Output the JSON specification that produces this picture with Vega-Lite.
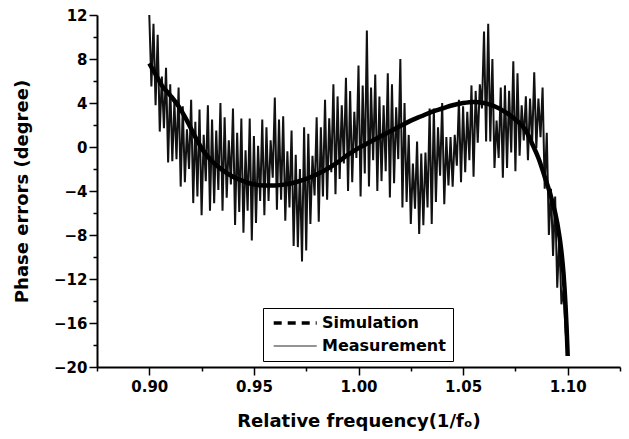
{
  "$schema": "https://vega.github.io/schema/vega-lite/v6.json",
  "width": 523,
  "height": 352,
  "autosize": "none",
  "padding": {"left": 97, "top": 15, "right": 9, "bottom": 72},
  "background": "white",
  "config": {
    "view": {"stroke": null},
    "font": "DejaVu Sans",
    "axis": {
      "grid": false,
      "domainColor": "black",
      "domainWidth": 2,
      "tickColor": "black",
      "tickWidth": 1.5,
      "labelColor": "black",
      "titleColor": "black",
      "labelFont": "DejaVu Sans",
      "labelFontWeight": "bold",
      "labelFontSize": 15,
      "titleFont": "DejaVu Sans",
      "titleFontWeight": "bold",
      "titleFontSize": 18,
      "labelOverlap": false,
      "labelFlush": false
    },
    "legend": {
      "orient": "none",
      "legendX": 166,
      "legendY": 293,
      "strokeColor": "black",
      "strokeWidth": 1,
      "fillColor": "white",
      "padding": 7,
      "rowPadding": 7,
      "labelFont": "DejaVu Sans",
      "labelFontWeight": "bold",
      "labelFontSize": 16,
      "labelColor": "black",
      "labelOffset": 36,
      "symbolType": "M-0.6,0H5.4",
      "symbolSize": 205,
      "symbolStrokeColor": "black"
    }
  },
  "datasets": {
    "meas": [
      {"x":0.900,"y":12,"s":"Measurement"},{"x":0.901,"y":5.5,"s":"Measurement"},{"x":0.902,"y":11.2,"s":"Measurement"},{"x":0.903,"y":3.8,"s":"Measurement"},
      {"x":0.904,"y":10.2,"s":"Measurement"},{"x":0.905,"y":1.4,"s":"Measurement"},{"x":0.906,"y":6.4,"s":"Measurement"},{"x":0.907,"y":1.7,"s":"Measurement"},
      {"x":0.908,"y":7.2,"s":"Measurement"},{"x":0.909,"y":-1.4,"s":"Measurement"},{"x":0.910,"y":5.7,"s":"Measurement"},{"x":0.911,"y":-1.3,"s":"Measurement"},
      {"x":0.912,"y":4.1,"s":"Measurement"},{"x":0.913,"y":-1.1,"s":"Measurement"},{"x":0.914,"y":5.4,"s":"Measurement"},{"x":0.915,"y":-3.6,"s":"Measurement"},
      {"x":0.916,"y":3.7,"s":"Measurement"},{"x":0.917,"y":-3.2,"s":"Measurement"},{"x":0.918,"y":1.6,"s":"Measurement"},{"x":0.919,"y":-2.0,"s":"Measurement"},
      {"x":0.920,"y":4.3,"s":"Measurement"},{"x":0.921,"y":-5.1,"s":"Measurement"},{"x":0.922,"y":2.3,"s":"Measurement"},{"x":0.923,"y":-4.5,"s":"Measurement"},
      {"x":0.924,"y":3.4,"s":"Measurement"},{"x":0.925,"y":-6.2,"s":"Measurement"},{"x":0.926,"y":1.1,"s":"Measurement"},{"x":0.927,"y":-3.1,"s":"Measurement"},
      {"x":0.928,"y":3.8,"s":"Measurement"},{"x":0.929,"y":-5.8,"s":"Measurement"},{"x":0.930,"y":2.5,"s":"Measurement"},{"x":0.931,"y":-5.1,"s":"Measurement"},
      {"x":0.932,"y":1.5,"s":"Measurement"},{"x":0.933,"y":-3.9,"s":"Measurement"},{"x":0.934,"y":4.0,"s":"Measurement"},{"x":0.935,"y":-5.8,"s":"Measurement"},
      {"x":0.936,"y":2.7,"s":"Measurement"},{"x":0.937,"y":-4.6,"s":"Measurement"},{"x":0.938,"y":0.6,"s":"Measurement"},{"x":0.939,"y":-3.4,"s":"Measurement"},
      {"x":0.940,"y":3.5,"s":"Measurement"},{"x":0.941,"y":-7.1,"s":"Measurement"},{"x":0.942,"y":1.3,"s":"Measurement"},{"x":0.943,"y":-5.9,"s":"Measurement"},
      {"x":0.944,"y":2.6,"s":"Measurement"},{"x":0.945,"y":-7.8,"s":"Measurement"},{"x":0.946,"y":-0.3,"s":"Measurement"},{"x":0.947,"y":-5.8,"s":"Measurement"},
      {"x":0.948,"y":2.6,"s":"Measurement"},{"x":0.949,"y":-8.5,"s":"Measurement"},{"x":0.950,"y":1.0,"s":"Measurement"},{"x":0.951,"y":-6.9,"s":"Measurement"},
      {"x":0.952,"y":0.1,"s":"Measurement"},{"x":0.953,"y":-4.9,"s":"Measurement"},{"x":0.954,"y":2.5,"s":"Measurement"},{"x":0.955,"y":-6.2,"s":"Measurement"},
      {"x":0.956,"y":1.8,"s":"Measurement"},{"x":0.957,"y":-4.9,"s":"Measurement"},{"x":0.958,"y":0.6,"s":"Measurement"},{"x":0.959,"y":-2.8,"s":"Measurement"},
      {"x":0.960,"y":4.5,"s":"Measurement"},{"x":0.961,"y":-5.7,"s":"Measurement"},{"x":0.962,"y":2.5,"s":"Measurement"},{"x":0.963,"y":-4.8,"s":"Measurement"},
      {"x":0.964,"y":2.8,"s":"Measurement"},{"x":0.965,"y":-6.7,"s":"Measurement"},{"x":0.966,"y":-0.4,"s":"Measurement"},{"x":0.967,"y":-5.5,"s":"Measurement"},
      {"x":0.968,"y":1.5,"s":"Measurement"},{"x":0.969,"y":-9.0,"s":"Measurement"},{"x":0.970,"y":-0.7,"s":"Measurement"},{"x":0.971,"y":-9.1,"s":"Measurement"},
      {"x":0.972,"y":-2.0,"s":"Measurement"},{"x":0.973,"y":-10.4,"s":"Measurement"},{"x":0.974,"y":1.8,"s":"Measurement"},{"x":0.975,"y":-9.4,"s":"Measurement"},
      {"x":0.976,"y":1.2,"s":"Measurement"},{"x":0.977,"y":-7.0,"s":"Measurement"},{"x":0.978,"y":-0.8,"s":"Measurement"},{"x":0.979,"y":-4.4,"s":"Measurement"},
      {"x":0.980,"y":2.7,"s":"Measurement"},{"x":0.981,"y":-6.8,"s":"Measurement"},{"x":0.982,"y":1.8,"s":"Measurement"},{"x":0.983,"y":-4.5,"s":"Measurement"},
      {"x":0.984,"y":4.3,"s":"Measurement"},{"x":0.985,"y":-4.8,"s":"Measurement"},{"x":0.986,"y":2.6,"s":"Measurement"},{"x":0.987,"y":-2.3,"s":"Measurement"},
      {"x":0.988,"y":5.7,"s":"Measurement"},{"x":0.989,"y":-4.3,"s":"Measurement"},{"x":0.990,"y":4.6,"s":"Measurement"},{"x":0.991,"y":-2.9,"s":"Measurement"},
      {"x":0.992,"y":3.8,"s":"Measurement"},{"x":0.993,"y":-1.5,"s":"Measurement"},{"x":0.994,"y":6.3,"s":"Measurement"},{"x":0.995,"y":-4.0,"s":"Measurement"},
      {"x":0.996,"y":5.1,"s":"Measurement"},{"x":0.997,"y":-3.2,"s":"Measurement"},{"x":0.998,"y":3.2,"s":"Measurement"},{"x":0.999,"y":-1.0,"s":"Measurement"},
      {"x":1.000,"y":7.4,"s":"Measurement"},{"x":1.001,"y":-4.5,"s":"Measurement"},{"x":1.002,"y":5.6,"s":"Measurement"},{"x":1.003,"y":-2.4,"s":"Measurement"},
      {"x":1.004,"y":10.6,"s":"Measurement"},{"x":1.005,"y":-3.6,"s":"Measurement"},{"x":1.006,"y":5.4,"s":"Measurement"},{"x":1.007,"y":-1.2,"s":"Measurement"},
      {"x":1.008,"y":6.6,"s":"Measurement"},{"x":1.009,"y":-4.0,"s":"Measurement"},{"x":1.010,"y":4.6,"s":"Measurement"},{"x":1.011,"y":-3.1,"s":"Measurement"},
      {"x":1.012,"y":3.8,"s":"Measurement"},{"x":1.013,"y":-2.2,"s":"Measurement"},{"x":1.014,"y":6.7,"s":"Measurement"},{"x":1.015,"y":-4.6,"s":"Measurement"},
      {"x":1.016,"y":5.7,"s":"Measurement"},{"x":1.017,"y":-3.3,"s":"Measurement"},{"x":1.018,"y":3.6,"s":"Measurement"},{"x":1.019,"y":-1.1,"s":"Measurement"},
      {"x":1.020,"y":8.0,"s":"Measurement"},{"x":1.021,"y":-5.5,"s":"Measurement"},{"x":1.022,"y":4.0,"s":"Measurement"},{"x":1.023,"y":-5.0,"s":"Measurement"},
      {"x":1.024,"y":1.1,"s":"Measurement"},{"x":1.025,"y":-7.0,"s":"Measurement"},{"x":1.026,"y":-1.5,"s":"Measurement"},{"x":1.027,"y":-5.6,"s":"Measurement"},
      {"x":1.028,"y":0.5,"s":"Measurement"},{"x":1.029,"y":-7.9,"s":"Measurement"},{"x":1.030,"y":-0.6,"s":"Measurement"},{"x":1.031,"y":-7.1,"s":"Measurement"},
      {"x":1.032,"y":-0.5,"s":"Measurement"},{"x":1.033,"y":-5.5,"s":"Measurement"},{"x":1.034,"y":3.5,"s":"Measurement"},{"x":1.035,"y":-7.0,"s":"Measurement"},
      {"x":1.036,"y":3.5,"s":"Measurement"},{"x":1.037,"y":-5.0,"s":"Measurement"},{"x":1.038,"y":1.8,"s":"Measurement"},{"x":1.039,"y":-2.6,"s":"Measurement"},
      {"x":1.040,"y":4.0,"s":"Measurement"},{"x":1.041,"y":-5.2,"s":"Measurement"},{"x":1.042,"y":0.9,"s":"Measurement"},{"x":1.043,"y":-3.5,"s":"Measurement"},
      {"x":1.044,"y":0.9,"s":"Measurement"},{"x":1.045,"y":-3.6,"s":"Measurement"},{"x":1.046,"y":1.1,"s":"Measurement"},{"x":1.047,"y":-1.7,"s":"Measurement"},
      {"x":1.048,"y":4.3,"s":"Measurement"},{"x":1.049,"y":-3.2,"s":"Measurement"},{"x":1.050,"y":3.7,"s":"Measurement"},{"x":1.051,"y":-2.3,"s":"Measurement"},
      {"x":1.052,"y":3.2,"s":"Measurement"},{"x":1.053,"y":-1.2,"s":"Measurement"},{"x":1.054,"y":5.6,"s":"Measurement"},{"x":1.055,"y":-2.7,"s":"Measurement"},
      {"x":1.056,"y":5.1,"s":"Measurement"},{"x":1.057,"y":0.4,"s":"Measurement"},{"x":1.058,"y":5.7,"s":"Measurement"},{"x":1.059,"y":3.5,"s":"Measurement"},
      {"x":1.060,"y":10.5,"s":"Measurement"},{"x":1.061,"y":0.5,"s":"Measurement"},{"x":1.062,"y":11.2,"s":"Measurement"},{"x":1.063,"y":0.5,"s":"Measurement"},
      {"x":1.064,"y":8.0,"s":"Measurement"},{"x":1.065,"y":-1.9,"s":"Measurement"},{"x":1.066,"y":2.4,"s":"Measurement"},{"x":1.067,"y":-1.0,"s":"Measurement"},
      {"x":1.068,"y":5.4,"s":"Measurement"},{"x":1.069,"y":-2.8,"s":"Measurement"},{"x":1.070,"y":5.6,"s":"Measurement"},{"x":1.071,"y":-1.9,"s":"Measurement"},
      {"x":1.072,"y":5.1,"s":"Measurement"},{"x":1.073,"y":-0.5,"s":"Measurement"},{"x":1.074,"y":7.8,"s":"Measurement"},{"x":1.075,"y":-2.2,"s":"Measurement"},
      {"x":1.076,"y":6.7,"s":"Measurement"},{"x":1.077,"y":-0.8,"s":"Measurement"},{"x":1.078,"y":3.8,"s":"Measurement"},{"x":1.079,"y":0.6,"s":"Measurement"},
      {"x":1.080,"y":4.6,"s":"Measurement"},{"x":1.081,"y":-1.2,"s":"Measurement"},{"x":1.082,"y":4.4,"s":"Measurement"},{"x":1.083,"y":0.3,"s":"Measurement"},
      {"x":1.084,"y":6.8,"s":"Measurement"},{"x":1.085,"y":-0.1,"s":"Measurement"},{"x":1.086,"y":4.4,"s":"Measurement"},{"x":1.087,"y":0.9,"s":"Measurement"},
      {"x":1.088,"y":5.4,"s":"Measurement"},{"x":1.089,"y":-3.8,"s":"Measurement"},{"x":1.090,"y":1.3,"s":"Measurement"},{"x":1.091,"y":-8.0,"s":"Measurement"},
      {"x":1.092,"y":-3.8,"s":"Measurement"},{"x":1.093,"y":-9.9,"s":"Measurement"},{"x":1.094,"y":-4.5,"s":"Measurement"},{"x":1.095,"y":-12.8,"s":"Measurement"},
      {"x":1.096,"y":-8.3,"s":"Measurement"},{"x":1.097,"y":-14.3,"s":"Measurement"},{"x":1.098,"y":-13.0,"s":"Measurement"},{"x":1.099,"y":-16.8,"s":"Measurement"},
      {"x":1.100,"y":-19,"s":"Measurement"}
    ],
    "sim": [
      {"x":0.900,"y":7.6,"s":"Simulation"},{"x":0.903,"y":6.6,"s":"Simulation"},{"x":0.906,"y":5.6,"s":"Simulation"},{"x":0.910,"y":4.7,"s":"Simulation"},
      {"x":0.914,"y":3.7,"s":"Simulation"},{"x":0.918,"y":2.4,"s":"Simulation"},{"x":0.922,"y":0.9,"s":"Simulation"},{"x":0.926,"y":-0.4,"s":"Simulation"},
      {"x":0.930,"y":-1.3,"s":"Simulation"},{"x":0.935,"y":-2.1,"s":"Simulation"},{"x":0.940,"y":-2.7,"s":"Simulation"},{"x":0.945,"y":-3.1,"s":"Simulation"},
      {"x":0.950,"y":-3.4,"s":"Simulation"},{"x":0.955,"y":-3.5,"s":"Simulation"},{"x":0.960,"y":-3.5,"s":"Simulation"},{"x":0.965,"y":-3.4,"s":"Simulation"},
      {"x":0.970,"y":-3.2,"s":"Simulation"},{"x":0.975,"y":-2.9,"s":"Simulation"},{"x":0.980,"y":-2.5,"s":"Simulation"},{"x":0.985,"y":-2.0,"s":"Simulation"},
      {"x":0.990,"y":-1.4,"s":"Simulation"},{"x":0.995,"y":-0.7,"s":"Simulation"},{"x":1.000,"y":-0.1,"s":"Simulation"},{"x":1.005,"y":0.4,"s":"Simulation"},
      {"x":1.010,"y":0.9,"s":"Simulation"},{"x":1.015,"y":1.4,"s":"Simulation"},{"x":1.020,"y":1.9,"s":"Simulation"},{"x":1.025,"y":2.4,"s":"Simulation"},
      {"x":1.030,"y":2.8,"s":"Simulation"},{"x":1.035,"y":3.2,"s":"Simulation"},{"x":1.040,"y":3.5,"s":"Simulation"},{"x":1.045,"y":3.8,"s":"Simulation"},
      {"x":1.050,"y":4.0,"s":"Simulation"},{"x":1.055,"y":4.1,"s":"Simulation"},{"x":1.060,"y":4.0,"s":"Simulation"},{"x":1.065,"y":3.7,"s":"Simulation"},
      {"x":1.070,"y":3.2,"s":"Simulation"},{"x":1.075,"y":2.5,"s":"Simulation"},{"x":1.080,"y":1.5,"s":"Simulation"},{"x":1.083,"y":0.3,"s":"Simulation"},
      {"x":1.086,"y":-1.0,"s":"Simulation"},{"x":1.089,"y":-2.7,"s":"Simulation"},{"x":1.092,"y":-4.5,"s":"Simulation"},{"x":1.095,"y":-6.9,"s":"Simulation"},
      {"x":1.097,"y":-9.5,"s":"Simulation"},{"x":1.098,"y":-11.5,"s":"Simulation"},{"x":1.099,"y":-14.5,"s":"Simulation"},{"x":1.0995,"y":-16.5,"s":"Simulation"},
      {"x":1.100,"y":-19,"s":"Simulation"}
    ]
  },
  "encoding": {
    "x": {
      "field": "x",
      "type": "quantitative",
      "scale": {"domain": [0.875, 1.125], "nice": false, "zero": false},
      "axis": {
        "title": "Relative frequency(1/fₒ)",
        "values": [0.875, 0.9, 0.925, 0.95, 0.975, 1.0, 1.025, 1.05, 1.075, 1.1, 1.125],
        "format": ".2f",
        "labelExpr": "abs(datum.value*20 - round(datum.value*20)) < 0.01 && datum.value > 0.88 && datum.value < 1.12 ? datum.label : ''",
        "tickSize": {"condition": {"test": "abs(datum.value*20 - round(datum.value*20)) < 0.01", "value": 8}, "value": 4},
        "labelPadding": 4,
        "titlePadding": 18
      }
    },
    "y": {
      "field": "y",
      "type": "quantitative",
      "scale": {"domain": [-20, 12], "nice": false, "zero": false},
      "axis": {
        "title": "Phase errors (degree)",
        "values": [-20, -18, -16, -14, -12, -10, -8, -6, -4, -2, 0, 2, 4, 6, 8, 10, 12],
        "labelExpr": "datum.value % 4 == 0 ? datum.label : ''",
        "tickSize": {"condition": {"test": "datum.value % 4 == 0", "value": 8}, "value": 4},
        "labelPadding": 2,
        "titlePadding": 22
      }
    },
    "color": {
      "field": "s",
      "type": "nominal",
      "scale": {"domain": ["Simulation", "Measurement"], "range": ["black", "#111111"]},
      "legend": {
        "title": null,
        "encode": {
          "symbols": {
            "update": {
              "strokeDash": {"signal": "datum.value === 'Simulation' ? [8, 6] : [1, 0]"},
              "strokeWidth": {"signal": "datum.value === 'Simulation' ? 3.5 : 1"}
            }
          }
        }
      }
    }
  },
  "layer": [
    {"data": {"name": "meas"}, "mark": {"type": "line", "strokeWidth": 2, "strokeJoin": "miter"}},
    {"data": {"name": "sim"}, "mark": {"type": "line", "strokeWidth": 4.5, "interpolate": "monotone"}}
  ]
}
